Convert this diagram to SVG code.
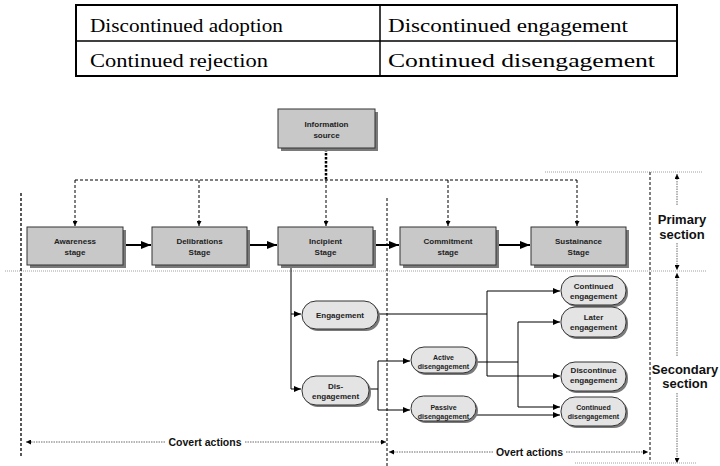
<svg xmlns="http://www.w3.org/2000/svg" width="720" height="466" viewBox="0 0 720 466">
<defs>
<marker id="ab" markerUnits="userSpaceOnUse" markerWidth="10" markerHeight="8" refX="10" refY="4" orient="auto"><path d="M0,0 L10,4 L0,8 z" fill="#000"/></marker>
<marker id="as" markerUnits="userSpaceOnUse" markerWidth="7" markerHeight="6" refX="7" refY="3" orient="auto"><path d="M0,0 L7,3 L0,6 z" fill="#000"/></marker>
<marker id="ad" markerUnits="userSpaceOnUse" markerWidth="5" markerHeight="5" refX="5" refY="2.5" orient="auto"><path d="M0,0 L5,2.5 L0,5 z" fill="#000"/></marker>
</defs>
<style>
.tbl{font-family:"Liberation Serif","Times New Roman",serif;font-size:19px;fill:#000}
.bx{fill:#c8c8c8;stroke:#333;stroke-width:1}
.sh{fill:#7a7a7a}
.pl{fill:#e4e4e4;stroke:#333;stroke-width:1}
.t8{font-family:"Liberation Sans",Arial,sans-serif;font-size:8px;font-weight:bold;fill:#222;text-anchor:middle}
.t7{font-family:"Liberation Sans",Arial,sans-serif;font-size:7px;font-weight:bold;fill:#222;text-anchor:middle}
.t13{font-family:"Liberation Sans",Arial,sans-serif;font-size:13px;font-weight:bold;fill:#111;text-anchor:middle}
.t10{font-family:"Liberation Sans",Arial,sans-serif;font-size:10.5px;font-weight:bold;fill:#111;text-anchor:middle}
.main{stroke:#000;stroke-width:2;fill:none}
.ln{stroke:#000;stroke-width:1;fill:none}
.dash{stroke:#000;stroke-width:1;fill:none;stroke-dasharray:3,2}
.vd{stroke:#555;stroke-width:1.5;fill:none;stroke-dasharray:3,2}
.dot{stroke:#888;stroke-width:0.8;fill:none;stroke-dasharray:1,1}
.dim{stroke:#444;stroke-width:0.8;fill:none;stroke-dasharray:1.5,1}
</style>

<g id="table">
<rect x="76" y="5" width="601" height="71" fill="none" stroke="#000" stroke-width="2"/>
<line x1="76" y1="41" x2="677" y2="41" stroke="#000" stroke-width="1.5"/>
<line x1="380" y1="5" x2="380" y2="76" stroke="#000" stroke-width="1.5"/>
<text class="tbl" x="90" y="32" textLength="193" lengthAdjust="spacingAndGlyphs">Discontinued adoption</text>
<text class="tbl" x="90" y="67" textLength="178" lengthAdjust="spacingAndGlyphs">Continued rejection</text>
<text class="tbl" x="388" y="32" textLength="240" lengthAdjust="spacingAndGlyphs">Discontinued engagement</text>
<text class="tbl" x="388" y="67" textLength="267" lengthAdjust="spacingAndGlyphs">Continued disengagement</text>
</g>

<g id="guides">
<line class="dot" x1="5" y1="271" x2="707" y2="271"/>
<line class="dot" x1="545" y1="172" x2="703" y2="172"/>
<line class="dot" x1="575" y1="463" x2="697" y2="463"/>
<line class="vd" x1="21" y1="193" x2="21" y2="458" style="stroke:#222"/>
<line class="vd" x1="387" y1="198" x2="387" y2="466"/>
<line class="vd" x1="650" y1="172" x2="650" y2="460"/>
<path class="dim" d="M677,205 V174" marker-end="url(#ad)"/>
<path class="dim" d="M677,243 V270" marker-end="url(#ad)"/>
<path class="dim" d="M677,356 V273" marker-end="url(#ad)"/>
<path class="dim" d="M677,393 V463" marker-end="url(#ad)"/>
<text class="t13" x="682" y="224">Primary</text>
<text class="t13" x="682" y="239">section</text>
<text class="t13" x="685" y="374">Secondary</text>
<text class="t13" x="685" y="388">section</text>
<path class="dim" d="M165,442 H26" marker-end="url(#ad)"/>
<path class="dim" d="M245,442 H386" marker-end="url(#ad)"/>
<text class="t10" x="205" y="446">Covert actions</text>
<path class="dim" d="M493,452 H389" marker-end="url(#ad)"/>
<path class="dim" d="M566,452 H648" marker-end="url(#ad)"/>
<text class="t10" x="529.5" y="456">Overt actions</text>
</g>

<g id="connectors">
<line x1="326" y1="149" x2="326" y2="180" stroke="#000" stroke-width="2.5" stroke-dasharray="2.5,1.5"/>
<path class="dash" d="M75,180 H577"/>
<path class="dash" d="M75,180 V226" marker-end="url(#ad)"/>
<path class="dash" d="M199,180 V226" marker-end="url(#ad)"/>
<path class="dash" d="M326,180 V226" marker-end="url(#ad)"/>
<path class="dash" d="M448,180 V226" marker-end="url(#ad)"/>
<path class="dash" d="M577,180 V226" marker-end="url(#ad)"/>
<path class="main" d="M123,245 H151" marker-end="url(#ab)"/>
<path class="main" d="M247,245 H277" marker-end="url(#ab)"/>
<path class="main" d="M373,245 H399" marker-end="url(#ab)"/>
<path class="main" d="M496,245 H530" marker-end="url(#ab)"/>
<path class="ln" d="M291,265 V389 H301" marker-end="url(#as)"/>
<path class="ln" d="M291,314 H301" marker-end="url(#as)"/>
<path class="ln" d="M378,314 H487"/>
<path class="ln" d="M487,314 V291 H560" marker-end="url(#as)"/>
<path class="ln" d="M487,314 V376 H560" marker-end="url(#as)"/>
<path class="ln" d="M369,389 H378"/>
<path class="ln" d="M378,389 V361 H410" marker-end="url(#as)"/>
<path class="ln" d="M378,389 V410 H410" marker-end="url(#as)"/>
<path class="ln" d="M476,362 H518"/>
<path class="ln" d="M518,362 V322 H560" marker-end="url(#as)"/>
<path class="ln" d="M518,362 V407 H560" marker-end="url(#as)"/>
<path class="ln" d="M476,415 H560" marker-end="url(#as)"/>
</g>

<g id="info-source">
<rect class="sh" x="281" y="112" width="97" height="39"/>
<rect class="bx" x="278" y="109" width="97" height="39"/>
<text class="t8" x="326.5" y="127">Information</text>
<text class="t8" x="326.5" y="138">source</text>
</g>
<g id="awareness">
<rect class="sh" x="30" y="230" width="96" height="38"/>
<rect class="bx" x="27" y="227" width="96" height="38"/>
<text class="t8" x="75" y="244">Awareness</text>
<text class="t8" x="75" y="255">stage</text>
</g>
<g id="delibrations">
<rect class="sh" x="155" y="230" width="95" height="38"/>
<rect class="bx" x="152" y="227" width="95" height="38"/>
<text class="t8" x="199.5" y="244">Delibrations</text>
<text class="t8" x="199.5" y="255">Stage</text>
</g>
<g id="incipient">
<rect class="sh" x="281" y="230" width="95" height="38"/>
<rect class="bx" x="278" y="227" width="95" height="38"/>
<text class="t8" x="325.5" y="244">Incipient</text>
<text class="t8" x="325.5" y="255">Stage</text>
</g>
<g id="commitment">
<rect class="sh" x="403" y="230" width="96" height="38"/>
<rect class="bx" x="400" y="227" width="96" height="38"/>
<text class="t8" x="448" y="244">Commitment</text>
<text class="t8" x="448" y="255">stage</text>
</g>
<g id="sustainance">
<rect class="sh" x="534" y="230" width="95" height="38"/>
<rect class="bx" x="531" y="227" width="95" height="38"/>
<text class="t8" x="578.5" y="244">Sustainance</text>
<text class="t8" x="578.5" y="255">Stage</text>
</g>

<g id="engagement">
<rect class="sh" x="304" y="303" width="76" height="28" rx="14"/>
<rect class="pl" x="302" y="301" width="76" height="28" rx="14"/>
<text class="t8" x="340" y="318">Engagement</text>
</g>
<g id="dis-engagement">
<rect class="sh" x="304" y="378" width="67" height="29" rx="14"/>
<rect class="pl" x="302" y="376" width="67" height="29" rx="14"/>
<text class="t8" x="335.5" y="389">Dis-</text>
<text class="t8" x="335.5" y="399">engagement</text>
</g>
<g id="active">
<rect class="sh" x="413" y="349" width="65" height="26" rx="13"/>
<rect class="pl" x="411" y="347" width="65" height="26" rx="13"/>
<text class="t7" x="443.5" y="360">Active</text>
<text class="t7" x="443.5" y="369">disengagement</text>
</g>
<g id="passive">
<rect class="sh" x="413" y="398" width="65" height="25" rx="12.5"/>
<rect class="pl" x="411" y="396" width="65" height="25" rx="12.5"/>
<text class="t7" x="443.5" y="410">Passive</text>
<text class="t7" x="443.5" y="419">disengagement</text>
</g>
<g id="continued-engagement">
<rect class="sh" x="563" y="278" width="65" height="29" rx="14"/>
<rect class="pl" x="561" y="276" width="65" height="29" rx="14"/>
<text class="t8" x="593.5" y="289">Continued</text>
<text class="t8" x="593.5" y="299">engagement</text>
</g>
<g id="later-engagement">
<rect class="sh" x="563" y="309" width="65" height="30" rx="14"/>
<rect class="pl" x="561" y="307" width="65" height="30" rx="14"/>
<text class="t8" x="593.5" y="320">Later</text>
<text class="t8" x="593.5" y="330">engagement</text>
</g>
<g id="discontinue-engagement">
<rect class="sh" x="563" y="364" width="65" height="29" rx="14"/>
<rect class="pl" x="561" y="362" width="65" height="29" rx="14"/>
<text class="t8" x="593.5" y="373">Discontinue</text>
<text class="t8" x="593.5" y="383">engagement</text>
</g>
<g id="continued-disengagement">
<rect class="sh" x="563" y="399" width="65" height="29" rx="14"/>
<rect class="pl" x="561" y="397" width="65" height="29" rx="14"/>
<text class="t7" x="593.5" y="410">Continued</text>
<text class="t7" x="593.5" y="419">disengagement</text>
</g>
</svg>
